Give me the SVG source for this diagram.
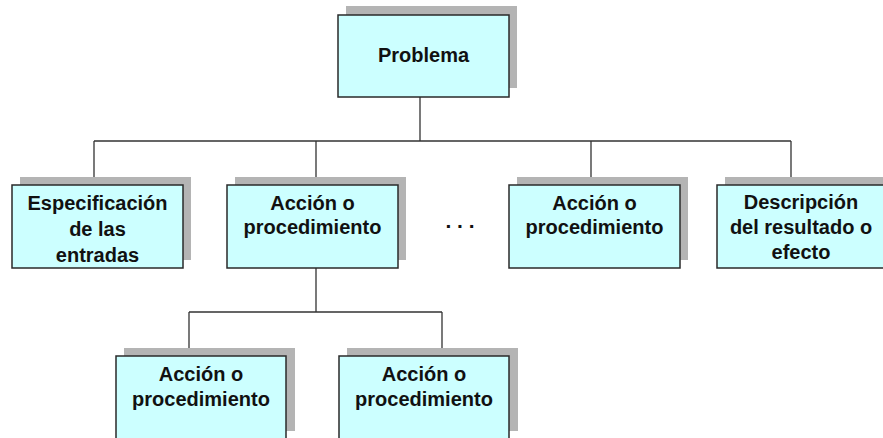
<svg xmlns="http://www.w3.org/2000/svg" width="883" height="438" viewBox="0 0 883 438">
<style>
.sh{fill:#b4b4b4}
.bx{fill:#ccffff;stroke:#2a2a2a;stroke-width:1.5}
.t{font-family:"Liberation Sans",Arial,sans-serif;font-weight:bold;font-size:20px;fill:#111;text-anchor:middle}
.c{stroke:#333;stroke-width:1.3;fill:none}
</style>
<rect width="883" height="438" fill="#fff"/>
<g id="connectors">
<path class="c" d="M420 97V141M94 141H791M94 141V185M316 141V185M591 141V185M791 141V185"/>
<path class="c" d="M316 268V312M189 312H442M189 312V356M442 312V356"/>
</g>
<g id="problema">
<rect class="sh" x="346" y="6" width="171" height="82"/>
<rect class="bx" x="338" y="15" width="171" height="82"/>
<text class="t" x="423.5" y="62">Problema</text>
</g>
<g id="especificacion">
<rect class="sh" x="20" y="177" width="171" height="83"/>
<rect class="bx" x="12" y="185" width="171" height="83"/>
<text class="t" x="97.5" y="210">Especificación</text>
<text class="t" x="97.5" y="236">de las</text>
<text class="t" x="97.5" y="262">entradas</text>
</g>
<g id="accion1">
<rect class="sh" x="235" y="177" width="171" height="83"/>
<rect class="bx" x="227" y="185" width="171" height="83"/>
<text class="t" x="312.5" y="210">Acción o</text>
<text class="t" x="312.5" y="234">procedimiento</text>
</g>
<g id="dots">
<text class="t" x="460" y="228" style="font-size:21px">. . .</text>
</g>
<g id="accion2">
<rect class="sh" x="517" y="177" width="171" height="83"/>
<rect class="bx" x="509" y="185" width="171" height="83"/>
<text class="t" x="594.5" y="210">Acción o</text>
<text class="t" x="594.5" y="234">procedimiento</text>
</g>
<g id="descripcion">
<rect class="sh" x="725" y="177" width="171" height="83"/>
<rect class="bx" x="717" y="185" width="171" height="83"/>
<text class="t" x="801" y="209">Descripción</text>
<text class="t" x="801" y="234">del resultado o</text>
<text class="t" x="801" y="259">efecto</text>
</g>
<g id="accion3">
<rect class="sh" x="124" y="348" width="171" height="83"/>
<rect class="bx" x="116" y="356" width="170" height="83"/>
<text class="t" x="201" y="381">Acción o</text>
<text class="t" x="201" y="406">procedimiento</text>
</g>
<g id="accion4">
<rect class="sh" x="347" y="348" width="171" height="83"/>
<rect class="bx" x="339" y="356" width="170" height="83"/>
<text class="t" x="424" y="381">Acción o</text>
<text class="t" x="424" y="406">procedimiento</text>
</g>
</svg>
